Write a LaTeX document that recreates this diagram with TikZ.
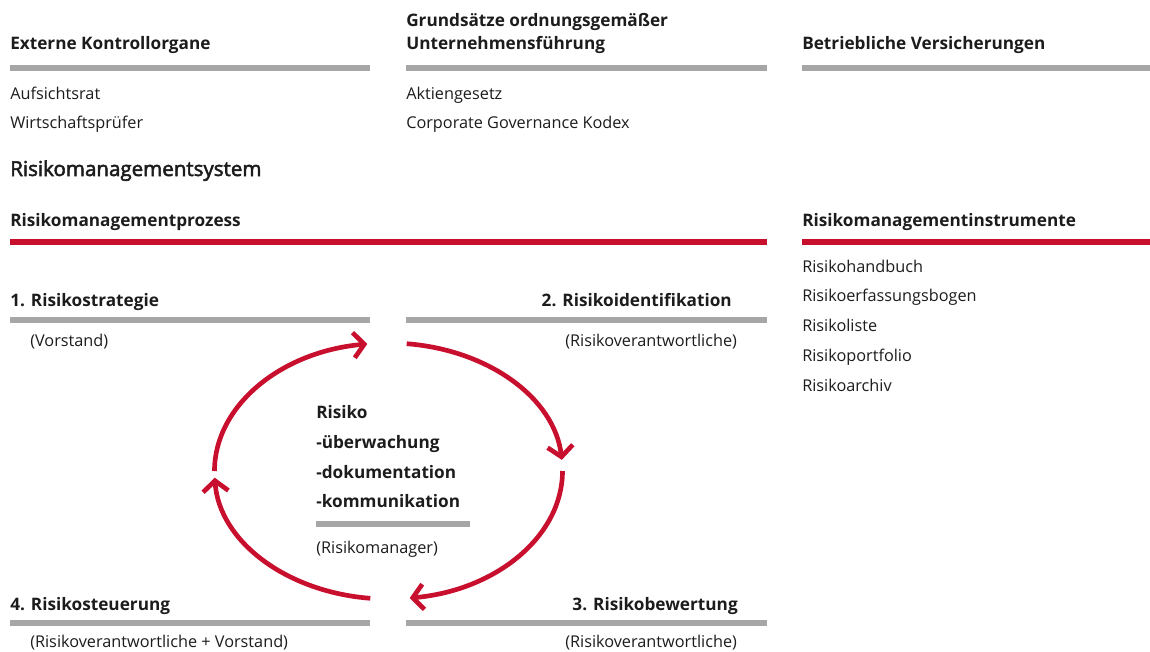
\documentclass[tikz,border=0pt]{standalone}
\usepackage{fontspec}
\setmainfont{Open Sans}
\usetikzlibrary{arrows.meta}
\definecolor{brandred}{RGB}{200,16,46}
\definecolor{bargray}{RGB}{166,166,166}
\definecolor{ink}{RGB}{28,28,28}
\newfontface\titlefont{Open Sans}[FakeBold=2.5]
\begin{document}
\begin{tikzpicture}[x=0.75pt,y=-0.75pt,
  txt/.style={anchor=base west,inner sep=0pt,text=ink,font=\fontsize{12.2}{14}\selectfont},
  txtr/.style={txt,anchor=base east},
  head/.style={txt,font=\fontsize{12.9}{15}\selectfont\bfseries},
  headr/.style={head,anchor=base east},
  graybar/.style={draw=bargray,line width=4pt},
  redbar/.style={draw=brandred,line width=4.2pt},
  cyc/.style={draw=brandred,line width=3.5pt,-{Straight Barb[length=8pt,width=19pt]}}]
\useasboundingbox (0,0) rectangle (1150,651);

% --- top row: external framework ---
\node[head] (ext) at (10,49) {Externe Kontrollorgane};
\draw[graybar] (10,68) -- (370,68);
\node[txt] (ar) at (10,99) {Aufsichtsrat};
\node[txt] (wp) at (10,128) {Wirtschaftsprüfer};

\node[head] (gr1) at (406,26) {Grundsätze ordnungsgemäßer};
\node[head] (gr2) at (406,49) {Unternehmensführung};
\draw[graybar] (406,68) -- (767,68);
\node[txt] (ag) at (406,99) {Aktiengesetz};
\node[txt] (cg) at (406,128) {Corporate Governance Kodex};

\node[head] (bv) at (802,49) {Betriebliche Versicherungen};
\draw[graybar] (802,68) -- (1150,68);

% --- system ---
\node[txt,font=\fontsize{15.4}{18}\titlefont] (sys) at (10,176) {Risikomanagementsystem};

\node[head] (proz) at (10,226) {Risikomanagementprozess};
\draw[redbar] (10,242) -- (767,242);

\node[head] (instr) at (802,226) {Risikomanagementinstrumente};
\draw[redbar] (802,242) -- (1150,242);
\node[txt] (i1) at (802,272) {Risikohandbuch};
\node[txt] (i2) at (802,301) {Risikoerfassungsbogen};
\node[txt] (i3) at (802,331) {Risikoliste};
\node[txt] (i4) at (802,361) {Risikoportfolio};
\node[txt] (i5) at (802,391) {Risikoarchiv};

% --- process steps ---
\node[head] (s1) at (10,306) {1. Risikostrategie};
\draw[graybar] (10,320) -- (370,320);
\node[txt] (s1r) at (30,346) {(Vorstand)};

\node[headr] (s2) at (732,306) {2. Risikoidentifikation};
\draw[graybar] (406,320) -- (767,320);
\node[txt] (s2r) at (565,346) {(Risikoverantwortliche)};

\node[headr] (s3) at (738,610) {3. Risikobewertung};
\draw[graybar] (406,623) -- (767,623);
\node[txt] (s3r) at (565,647) {(Risikoverantwortliche)};

\node[head] (s4) at (10,610) {4. Risikosteuerung};
\draw[graybar] (10,623) -- (370,623);
\node[txt] (s4r) at (30,647) {(Risikoverantwortliche + Vorstand)};

% --- centre ---
\node[head] (c1) at (316,418) {Risiko};
\node[head] (c2) at (316,448) {-überwachung};
\node[head] (c3) at (316,478) {-dokumentation};
\node[head] (c4) at (316,507) {-kommunikation};
\draw[graybar] (316,524) -- (470,524);
\node[txt] (c5) at (316,553) {(Risikomanager)};

% --- cycle arrows ---
\coordinate (cc) at (388.5,471);
\draw[cyc] (cc) ++(-84:174 and 128) arc[start angle=-84,end angle=-5,x radius=174,y radius=128];
\draw[cyc] (cc) ++(0:174 and 128) arc[start angle=0,end angle=83,x radius=174,y radius=128];
\draw[cyc] (cc) ++(96:174 and 128) arc[start angle=96,end angle=177,x radius=174,y radius=128];
\draw[cyc] (cc) ++(180:174 and 128) arc[start angle=180,end angle=263,x radius=174,y radius=128];
\end{tikzpicture}
\end{document}
